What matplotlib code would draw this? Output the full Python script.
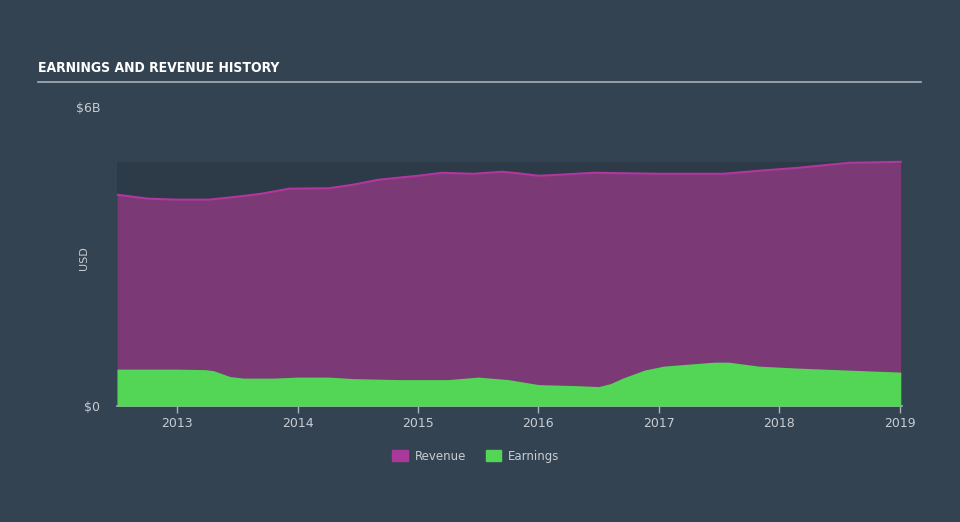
import numpy as np
import matplotlib.pyplot as plt
from matplotlib.patches import Patch
from matplotlib import font_manager as fm

# dados (anos decimais, bilhões USD)
anos_receita = [2012.5, 2012.76, 2013.0, 2013.26, 2013.5, 2013.7, 2013.93, 2014.26, 2014.46, 2014.67,
                2015.0, 2015.2, 2015.46, 2015.7, 2015.83, 2016.0, 2016.17, 2016.46, 2017.0, 2017.54,
                2017.83, 2018.16, 2018.41, 2018.58, 2019.01]
receita = [4.24, 4.16, 4.14, 4.14, 4.20, 4.26, 4.36, 4.37, 4.44, 4.54,
           4.62, 4.68, 4.66, 4.70, 4.67, 4.62, 4.64, 4.68, 4.66, 4.66,
           4.72, 4.78, 4.84, 4.88, 4.90]

anos_lucro = [2012.5, 2013.0, 2013.23, 2013.3, 2013.44, 2013.55, 2013.8, 2014.0, 2014.26, 2014.46,
              2014.83, 2015.25, 2015.5, 2015.75, 2016.0, 2016.3, 2016.5, 2016.6, 2016.7, 2016.88,
              2017.04, 2017.25, 2017.46, 2017.58, 2017.83, 2018.16, 2018.58, 2019.01]
lucro = [0.74, 0.74, 0.73, 0.71, 0.59, 0.56, 0.56, 0.58, 0.58, 0.55,
         0.53, 0.53, 0.58, 0.53, 0.43, 0.41, 0.39, 0.45, 0.56, 0.72,
         0.80, 0.84, 0.88, 0.88, 0.80, 0.76, 0.72, 0.68]

anos_ticks = [2013, 2014, 2015, 2016, 2017, 2018, 2019]

fundo = '#344352'
fundo_plot = '#2d3b49'
cor_receita = '#7b3a76'
linha_receita = '#b3369f'
cor_lucro = '#53d655'
cinza = '#c8cdd2'

# procura uma fonte estreita em negrito para o título
estreitas = [f.fname for f in fm.fontManager.ttflist
             if ('Condensed' in f.fname or 'Narrow' in f.fname) and 'Bold' in f.fname and 'Italic' not in f.fname
             and 'Oblique' not in f.fname]
if estreitas:
    fonte_titulo = fm.FontProperties(fname=sorted(estreitas)[0], size=10)
else:
    fonte_titulo = fm.FontProperties(family='DejaVu Sans', weight='bold', size=9)

fig = plt.figure(figsize=(9.6, 5.22), dpi=100, facecolor=fundo)
ax = fig.add_axes([117 / 960, 1 - 406 / 522, 785 / 960, 299 / 522])
ax.set_facecolor(fundo)

ax.axhspan(0, max(receita), color=fundo_plot, zorder=0)
ax.fill_between(anos_receita, receita, color=cor_receita, zorder=1, lw=0)
ax.plot(anos_receita, receita, color=linha_receita, lw=1.5, zorder=2)
ax.fill_between(anos_lucro, lucro, color=cor_lucro, zorder=3, lw=0)

ax.set_xlim(2012.5, 2019.02)
ax.set_ylim(0, 6)

for s in ['top', 'right', 'left']:
    ax.spines[s].set_visible(False)
ax.spines['bottom'].set_color('#aab2ba')
ax.spines['bottom'].set_linewidth(1.2)

ax.set_xticks(anos_ticks)
ax.set_xticklabels([str(a) for a in anos_ticks])
ax.set_yticks([0, 6])
ax.set_yticklabels(['$0', '$6B'])
ax.tick_params(axis='x', colors='#aab2ba', labelcolor=cinza, labelsize=9, length=5, width=1, pad=3)
ax.tick_params(axis='y', length=0, labelcolor=cinza, labelsize=9, pad=12)
ax.set_ylabel('USD', color=cinza, fontsize=8)
ax.yaxis.set_label_coords(-0.036, 0.495)

# título
fig.text(38 / 960, 1 - 68 / 522, 'EARNINGS AND REVENUE HISTORY', color='white',
         fontproperties=fonte_titulo, va='center')
fig.add_artist(plt.Line2D([38 / 960, 921 / 960], [1 - 81.5 / 522, 1 - 81.5 / 522], color='#a8b0b8', lw=1.2))

# legenda
alcas = [Patch(color='#a93a9b', label='Revenue'), Patch(color=cor_lucro, label='Earnings')]
fig.legend(handles=alcas, loc='center', bbox_to_anchor=(476 / 960, 1 - 456 / 522), ncol=2, frameon=False,
           labelcolor=cinza, fontsize=8.5, handlelength=1.3, handleheight=1.1, columnspacing=1.65, handletextpad=0.6)

fig.savefig('out.png', dpi=100, facecolor=fundo)
